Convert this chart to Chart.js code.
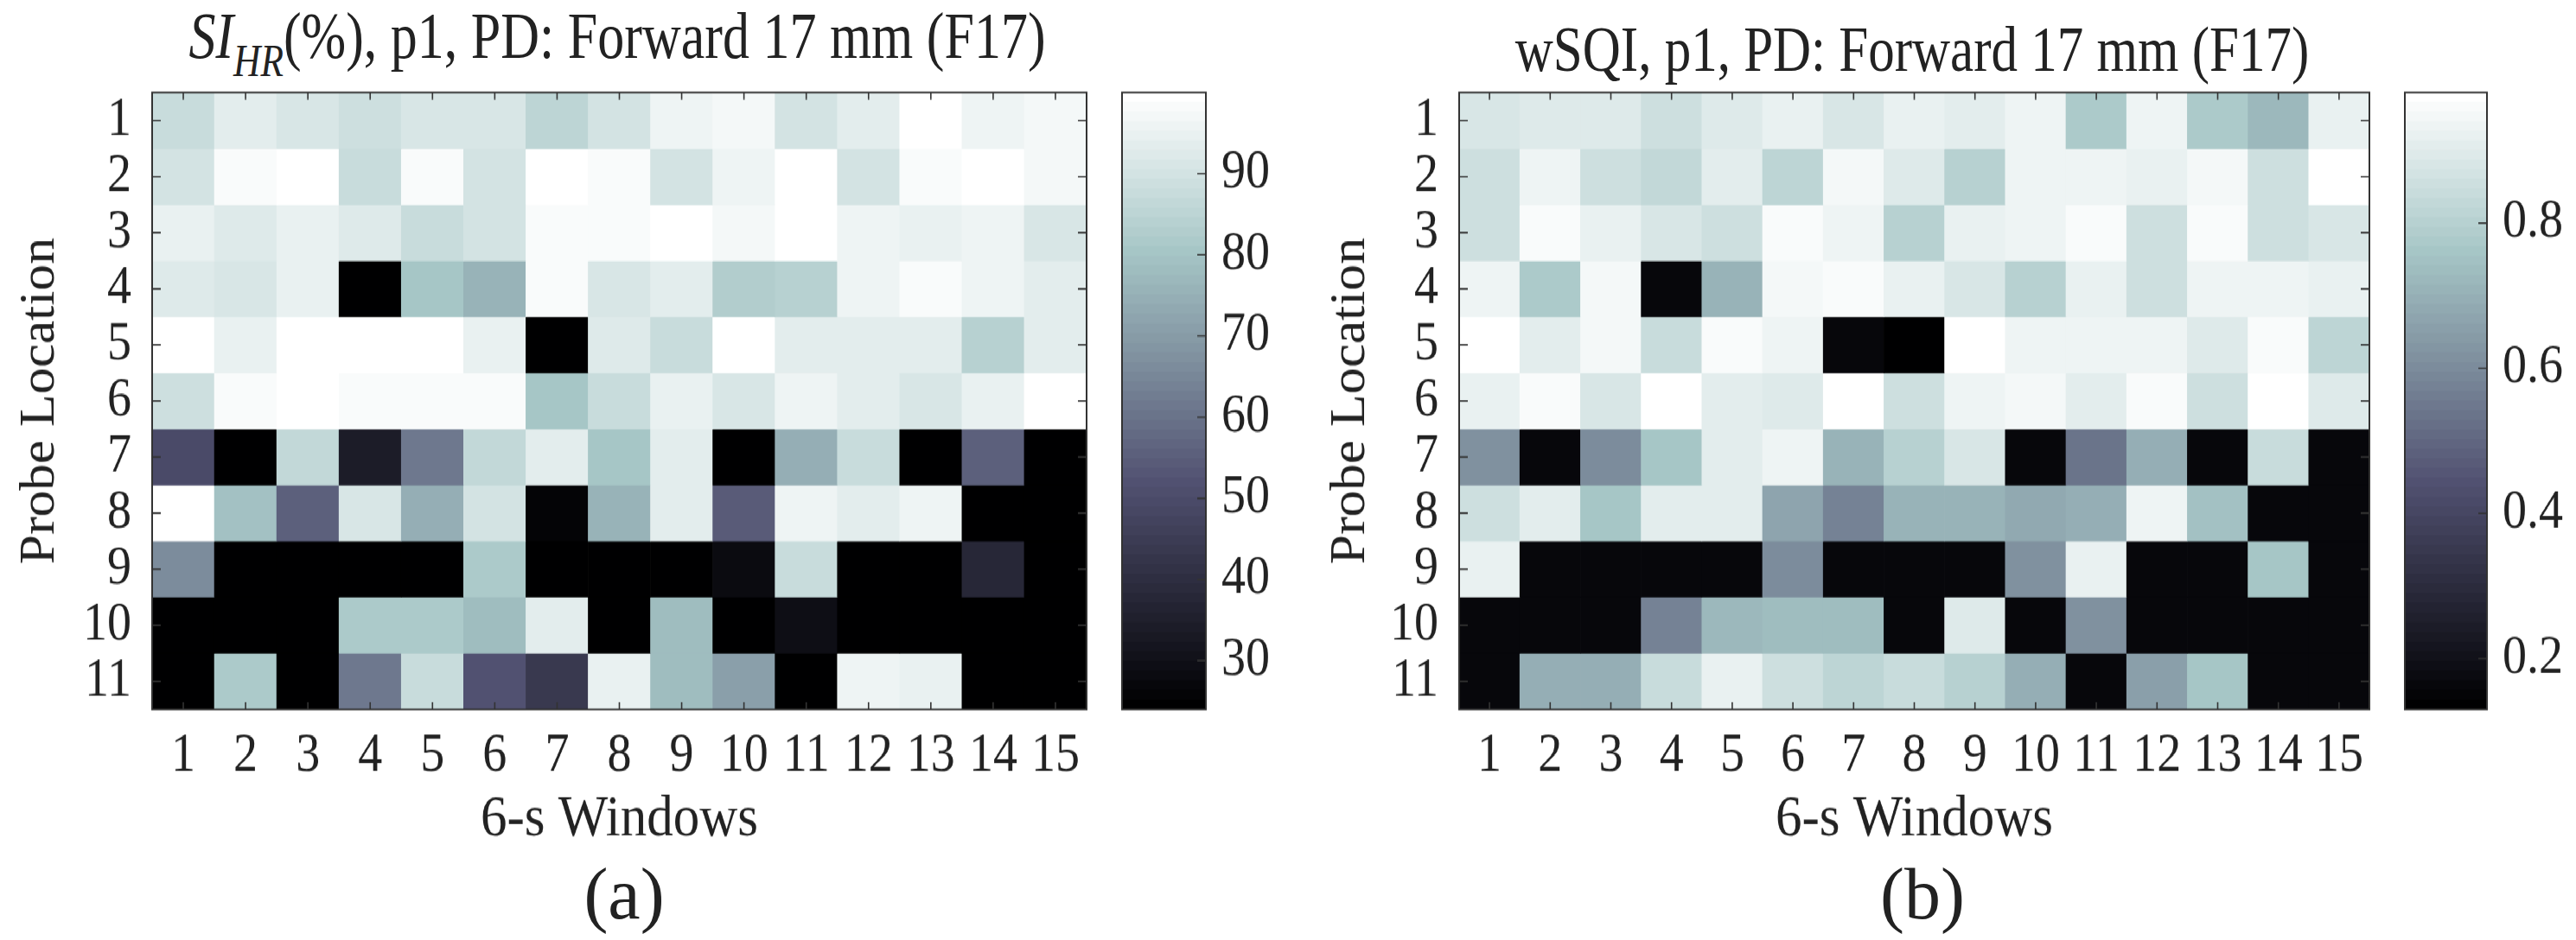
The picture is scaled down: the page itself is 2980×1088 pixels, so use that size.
<!DOCTYPE html>
<html>
<head>
<meta charset="utf-8">
<script src="https://cdn.jsdelivr.net/npm/chart.js@4.4.0/dist/chart.umd.min.js"></script>
<style>
  html, body { margin: 0; padding: 0; background: #fff; }
  body { width: 2980px; height: 1088px; position: relative; overflow: hidden;
         font-family: "Liberation Serif", "Times New Roman", serif; color: #222; }
  #fig { position: absolute; left: 0; top: 0; width: 2980px; height: 989px;
         transform: scaleY(1.1); transform-origin: 0 0; }
  #fig canvas { position: absolute; top: 0; }
  .ttl { position: absolute; width: 1400px; text-align: center; white-space: nowrap;
         line-height: 62px; transform: scaleY(1.22); transform-origin: 50% 0; }
  .ttl i { font-style: italic; }
  .ttl .sub { font-size: 0.7em; font-style: italic; vertical-align: -17px; line-height: 0; }
  .cap { position: absolute; width: 300px; text-align: center; font-size: 84px; line-height: 84px; top: 993px; }
</style>
</head>
<body>
<div class="ttl" style="left:14px; top:4px; font-size:62px;"><i>SI</i><span class="sub">HR</span>(%), p1, PD: Forward 17 mm (F17)</div>
<div class="ttl" style="left:1512px; top:20px; font-size:61px;">wSQI, p1, PD: Forward 17 mm (F17)</div>

<div id="fig">
  <canvas id="heatA" width="1290" height="989" style="left:0"></canvas>
  <canvas id="barA" width="210" height="989" style="left:1290px"></canvas>
  <canvas id="heatB" width="1290" height="989" style="left:1480px"></canvas>
  <canvas id="barB" width="200" height="989" style="left:2780px"></canvas>
</div>

<div class="cap" style="left:572px">(a)</div>
<div class="cap" style="left:2074px">(b)</div>

<script>
// columns and rows
const windows = ['1','2','3','4','5','6','7','8','9','10','11','12','13','14','15'];
const probes = ['1','2','3','4','5','6','7','8','9','10','11'];

// SI_HR (%) per probe location (row) and 6-s window (column)
const siHR = [
  [88, 94, 91, 89, 91, 91, 85, 90, 96, 97, 90, 93, 100, 96, 97],
  [90, 98, 100, 87, 98, 90, 100, 98, 90, 96, 100, 90, 98, 100, 97],
  [95, 92, 95, 92, 87, 90, 98, 98, 100, 97, 100, 96, 95, 96, 91],
  [92, 91, 95, 24, 80, 76, 98, 91, 94, 83, 84, 96, 98, 96, 93],
  [100, 95, 100, 99, 100, 95, 24, 92, 87, 100, 93, 93, 93, 84, 93],
  [89, 98, 100, 98, 98, 98, 80, 87, 95, 91, 96, 94, 91, 95, 100],
  [50, 24, 86, 34, 61, 86, 94, 80, 94, 24, 75, 87, 24, 56, 24],
  [100, 79, 55, 91, 75, 90, 26, 76, 94, 54, 96, 94, 96, 24, 24],
  [66, 24, 24, 24, 24, 82, 24, 24, 24, 28, 87, 24, 24, 38, 24],
  [24, 24, 24, 82, 82, 78, 94, 24, 78, 24, 29, 24, 24, 24, 24],
  [24, 82, 24, 61, 88, 52, 44, 95, 78, 71, 24, 96, 95, 24, 24]
];

// wSQI per probe location (row) and 6-s window (column)
const wSQI = [
  [0.88, 0.90, 0.90, 0.86, 0.89, 0.92, 0.88, 0.92, 0.91, 0.94, 0.78, 0.94, 0.78, 0.72, 0.92],
  [0.85, 0.93, 0.86, 0.83, 0.91, 0.82, 0.95, 0.89, 0.80, 0.94, 0.94, 0.92, 0.95, 0.85, 0.98],
  [0.85, 0.96, 0.92, 0.88, 0.85, 0.96, 0.94, 0.80, 0.92, 0.94, 0.96, 0.86, 0.96, 0.85, 0.88],
  [0.93, 0.77, 0.95, 0.16, 0.71, 0.95, 0.96, 0.92, 0.88, 0.80, 0.92, 0.86, 0.94, 0.93, 0.92],
  [0.98, 0.91, 0.95, 0.84, 0.96, 0.93, 0.16, 0.13, 0.98, 0.93, 0.93, 0.93, 0.90, 0.96, 0.82],
  [0.92, 0.96, 0.88, 0.98, 0.91, 0.89, 0.98, 0.85, 0.93, 0.95, 0.91, 0.96, 0.85, 0.98, 0.90],
  [0.61, 0.16, 0.60, 0.76, 0.91, 0.94, 0.71, 0.80, 0.88, 0.16, 0.53, 0.70, 0.16, 0.84, 0.16],
  [0.85, 0.91, 0.76, 0.91, 0.91, 0.67, 0.57, 0.71, 0.71, 0.68, 0.70, 0.94, 0.75, 0.16, 0.16],
  [0.92, 0.16, 0.16, 0.16, 0.16, 0.60, 0.16, 0.16, 0.16, 0.61, 0.92, 0.16, 0.16, 0.76, 0.16],
  [0.16, 0.16, 0.16, 0.57, 0.72, 0.74, 0.74, 0.16, 0.89, 0.16, 0.61, 0.16, 0.16, 0.16, 0.16],
  [0.16, 0.69, 0.70, 0.84, 0.92, 0.85, 0.81, 0.84, 0.80, 0.70, 0.16, 0.66, 0.76, 0.16, 0.16]
];

// colour limits and colorbar ticks
const siRange = [24, 100];
const sqiRange = [0.13, 0.98];
const siTicks = [30, 40, 50, 60, 70, 80, 90];
const sqiTicks = [0.2, 0.4, 0.6, 0.8];

// matlab bone(64)
const bone = Array.from({ length: 64 }, (_, i) => {
  const k = i + 1, g = i / 63;
  const hr = Math.min(1, k / 24);
  const hg = k <= 24 ? 0 : Math.min(1, (k - 24) / 24);
  const hb = k <= 48 ? 0 : (k - 48) / 16;
  const c = v => Math.round(255 * v);
  return `rgb(${c((7 * g + hb) / 8)},${c((7 * g + hg) / 8)},${c((7 * g + hr) / 8)})`;
});
const boneAt = (v, lo, hi) => bone[Math.max(0, Math.min(63, Math.floor((v - lo) / (hi - lo) * 64)))];

Chart.defaults.font.family = "'Liberation Serif', 'Times New Roman', serif";
Chart.defaults.color = '#222';

const H = 989, TOP = 97.3, BOTTOM = 746.4;

// box + inward tick marks like matlab axes
const frame = {
  id: 'frame',
  afterDatasetsDraw(chart, args, opts) {
    const { ctx, chartArea: a, scales } = chart;
    ctx.save();
    ctx.strokeStyle = '#333';
    ctx.lineWidth = 1.6;
    ctx.beginPath();
    if (opts.xTicks) {
      scales.x.ticks.forEach((t, i) => {
        const px = scales.x.getPixelForTick(i);
        ctx.moveTo(px, a.top); ctx.lineTo(px, a.top + 7.5);
        ctx.moveTo(px, a.bottom); ctx.lineTo(px, a.bottom - 7.5);
      });
    }
    scales.y.ticks.forEach(t => {
      const py = scales.y.getPixelForValue(t.value);
      if (opts.left) { ctx.moveTo(a.left, py); ctx.lineTo(a.left + 10, py); }
      ctx.moveTo(a.right, py); ctx.lineTo(a.right - 10, py);
    });
    ctx.stroke();
    ctx.lineWidth = 2;
    ctx.strokeRect(a.left, a.top, a.right - a.left, a.bottom - a.top);
    ctx.restore();
  }
};

function heatmap(id, values, range, yWidth, rightPad, yTitlePad) {
  const [lo, hi] = range;
  return new Chart(document.getElementById(id), {
    type: 'bar',
    data: {
      labels: windows,
      datasets: probes.map((p, r) => ({
        data: windows.map(() => [r + 0.5, r + 1.5]),
        backgroundColor: values[r].map(v => boneAt(v, lo, hi)),
        borderWidth: 0,
        grouped: false,
        barPercentage: 1,
        categoryPercentage: 1
      }))
    },
    options: {
      responsive: false,
      animation: false,
      layout: { padding: { top: TOP, right: rightPad, bottom: 0, left: 0 } },
      plugins: { legend: { display: false }, tooltip: { enabled: false }, frame: { xTicks: true, left: true } },
      scales: {
        x: {
          grid: { display: false, drawTicks: false },
          border: { display: false },
          ticks: { font: { size: 56 }, padding: 16, maxRotation: 0, autoSkip: false },
          title: { display: true, text: '6-s Windows', font: { size: 61 }, padding: { top: 0, bottom: 89 } },
          afterFit: s => { s.height = H - BOTTOM; }
        },
        y: {
          min: 0.5, max: 11.5, reverse: true,
          afterBuildTicks: s => { s.ticks = probes.map((p, i) => ({ value: i + 1 })); },
          grid: { display: false, drawTicks: false },
          border: { display: false },
          ticks: { font: { size: 56 }, padding: 24, autoSkip: false, callback: v => probes[v - 1] },
          title: { display: true, text: 'Probe Location', font: { size: 56 }, padding: { top: yTitlePad, bottom: 0 } },
          afterFit: s => { s.width = yWidth; }
        }
      }
    },
    plugins: [frame]
  });
}

function colorbar(id, range, ticks, leftPad, axisWidth) {
  const [lo, hi] = range;
  const step = (hi - lo) / bone.length;
  return new Chart(document.getElementById(id), {
    type: 'bar',
    data: {
      labels: [''],
      datasets: bone.map((c, i) => ({
        data: [[lo + i * step, lo + (i + 1) * step]],
        backgroundColor: c,
        borderWidth: 0,
        grouped: false,
        barPercentage: 1,
        categoryPercentage: 1
      }))
    },
    options: {
      responsive: false,
      animation: false,
      layout: { padding: { top: TOP, right: 0, bottom: H - BOTTOM, left: leftPad } },
      plugins: { legend: { display: false }, tooltip: { enabled: false }, frame: { xTicks: false, left: false } },
      scales: {
        x: { display: false },
        y: {
          position: 'right', min: lo, max: hi,
          afterBuildTicks: s => { s.ticks = ticks.map(v => ({ value: v })); },
          grid: { display: false, drawTicks: false },
          border: { display: false },
          ticks: { font: { size: 56 }, padding: 18, autoSkip: false },
          afterFit: s => { s.width = axisWidth; }
        }
      }
    },
    plugins: [frame]
  });
}

heatmap('heatA', siHR, siRange, 176, 33, 14);
colorbar('barA', siRange, siTicks, 8, 105);
heatmap('heatB', wSQI, sqiRange, 208, 29, 50);
colorbar('barB', sqiRange, sqiTicks, 2, 103);
</script>
</body>
</html>
